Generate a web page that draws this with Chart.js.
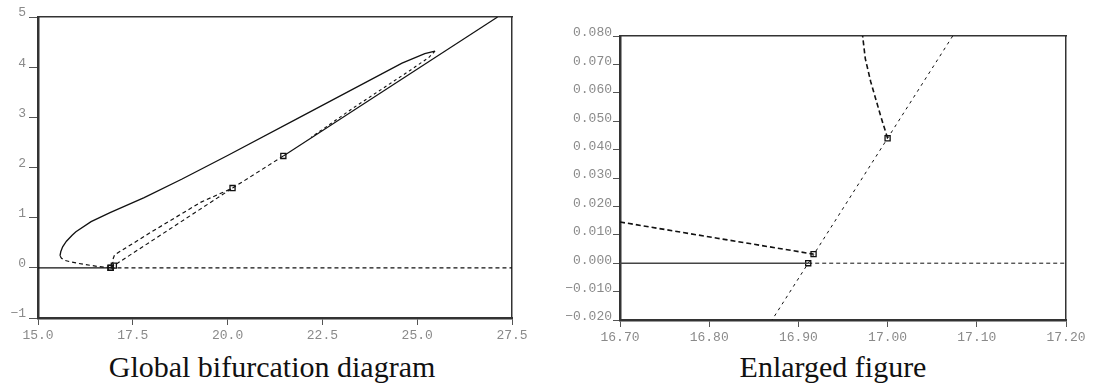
<!DOCTYPE html>
<html>
<head>
<meta charset="utf-8">
<script src="https://cdn.jsdelivr.net/npm/chart.js@4/dist/chart.umd.min.js"></script>
<style>
  body { margin: 0; background: #fff; width: 1102px; height: 391px; position: relative; overflow: hidden; }
  .box { position: absolute; top: 0; width: 551px; height: 345px; }
  .caption { position: absolute; top: 352px; font-family: 'Liberation Serif', serif; font-size: 30px; line-height: 30px; color: #111; white-space: nowrap; transform: translateX(-50%); }
</style>
</head>
<body>
<div class="box" style="left:0"><canvas id="globalChart" width="551" height="345"></canvas></div>
<div class="box" style="left:551px"><canvas id="zoomChart" width="551" height="345"></canvas></div>
<div class="caption" style="left:272px">Global bifurcation diagram</div>
<div class="caption" style="left:833px">Enlarged figure</div>
<script>
// ---- global diagram ----
const trivialStableX = [15.0, 16.911];
const trivialStableY = [0, 0];
const trivialUnstableX = [16.911, 27.5];
const trivialUnstableY = [0, 0];

// primary branch: unstable part down to the fold, stable part up to the upper fold, unstable return
const primaryLowX = [16.917, 16.6, 16.2, 15.85, 15.7, 15.62, 15.58];
const primaryLowY = [0.003, 0.025, 0.07, 0.12, 0.15, 0.19, 0.24];
const primaryStableX = [15.58, 15.6, 15.65, 15.75, 15.9, 16.0, 16.4, 16.9, 17.8, 18.8, 20.0, 21.9, 24.6, 25.2, 25.47];
const primaryStableY = [0.24, 0.32, 0.42, 0.53, 0.65, 0.72, 0.92, 1.1, 1.4, 1.77, 2.24, 3.0, 4.08, 4.27, 4.32];
const primaryReturnX = [25.47, 25.3, 24.8, 24.2, 23.3, 22.6, 22.2];
const primaryReturnY = [4.32, 4.19, 3.93, 3.63, 3.18, 2.81, 2.6];

// secondary branches
const secondaryStableX = [21.47, 27.12];
const secondaryStableY = [2.23, 5.0];
const secondaryMidX = [20.13, 21.47];
const secondaryMidY = [1.59, 2.23];
const secondaryUpperX = [17.0, 16.975, 16.97, 17.02, 17.3, 18.0, 19.3, 20.13];
const secondaryUpperY = [0.044, 0.08, 0.16, 0.26, 0.39, 0.72, 1.31, 1.59];
const secondaryLowerX = [16.911, 20.13];
const secondaryLowerY = [0, 1.59];

const bifPointsX = [16.911, 16.917, 17.0, 20.13, 21.47];
const bifPointsY = [0, 0.003, 0.044, 1.59, 2.23];

// ---- enlarged figure ----
const zTrivialStableX = [16.70, 16.911];
const zTrivialStableY = [0, 0];
const zTrivialUnstableX = [16.911, 17.20];
const zTrivialUnstableY = [0, 0];
const zPrimaryX = [16.70, 16.809, 16.917];
const zPrimaryY = [0.0145, 0.0088, 0.0032];
const zLowerX = [16.869, 16.911, 17.0, 17.074];
const zLowerY = [-0.0207, 0, 0.044, 0.0805];
const zUpperX = [17.0, 16.993, 16.981, 16.975, 16.972];
const zUpperY = [0.044, 0.051, 0.064, 0.072, 0.08];
const zPointsX = [16.911, 16.917, 17.0];
const zPointsY = [0, 0.0032, 0.044];

const pts = (xs, ys) => xs.map((x, i) => ({ x, y: ys[i] }));
const minus = (s) => s.replace('-', '\u2212');

function line(xs, ys, opts) {
  return Object.assign({
    data: pts(xs, ys),
    showLine: true,
    pointRadius: 0,
    borderColor: '#111',
    borderWidth: 1.2,
    fill: false,
    tension: 0,
  }, opts);
}

function squares(xs, ys) {
  return {
    data: pts(xs, ys),
    showLine: false,
    pointStyle: 'rect',
    pointRadius: 3.6,
    borderColor: '#111',
    borderWidth: 1.3,
    backgroundColor: 'rgba(0,0,0,0)',
  };
}

const tickFont = { family: "'Liberation Mono', 'DejaVu Sans Mono', monospace", size: 13 };
const tickColor = '#8a8a8a';

function makeScales(c) {
  return {
    x: {
      type: 'linear', min: c.xMin, max: c.xMax,
      ticks: { stepSize: c.xStep, autoSkip: false, maxRotation: 0, font: tickFont, color: tickColor, padding: 3,
        callback: (v) => minus(v.toFixed(c.xDec)) },
      grid: { drawOnChartArea: false, tickLength: 7, color: '#555', lineWidth: 1 },
      border: { color: '#333', width: 2.5 },
      afterFit: (s) => { s.height = c.xHeight; },
    },
    y: {
      type: 'linear', min: c.yMin, max: c.yMax,
      ticks: { stepSize: c.yStep, autoSkip: false, font: tickFont, color: tickColor, padding: c.yPad, labelOffset: c.yLabelOffset,
        callback: (v) => minus(v.toFixed(c.yDec)) },
      grid: { drawOnChartArea: false, tickLength: c.yTick, color: '#555', lineWidth: 1 },
      border: { color: '#333', width: 2.5 },
      afterFit: (s) => { s.width = c.yWidth; },
    },
    x2: {
      type: 'linear', position: 'top', min: c.xMin, max: c.xMax,
      ticks: { display: false }, grid: { display: false },
      border: { color: '#333', width: 1.5 },
      afterFit: (s) => { s.height = 0; },
    },
    y2: {
      type: 'linear', position: 'right', min: c.yMin, max: c.yMax,
      ticks: { display: false }, grid: { display: false },
      border: { color: '#333', width: 1.5 },
      afterFit: (s) => { s.width = 0; },
    },
  };
}

const commonOptions = {
  responsive: false,
  animation: false,
  events: [],
  plugins: { legend: { display: false }, tooltip: { enabled: false } },
};

new Chart(document.getElementById('globalChart'), {
  type: 'scatter',
  data: {
    datasets: [
      line(trivialStableX, trivialStableY, { borderWidth: 1.3 }),
      line(trivialUnstableX, trivialUnstableY, { borderDash: [4, 3], borderWidth: 1.1 }),
      line(primaryLowX, primaryLowY, { borderDash: [4, 3] }),
      line(primaryStableX, primaryStableY, { borderWidth: 1.3 }),
      line(primaryReturnX, primaryReturnY, { borderDash: [3, 3], borderWidth: 1.1 }),
      line(secondaryStableX, secondaryStableY, { borderWidth: 1.2 }),
      line(secondaryMidX, secondaryMidY, { borderDash: [4, 3], borderWidth: 1.1 }),
      line(secondaryUpperX, secondaryUpperY, { borderDash: [4, 3], borderWidth: 1.2 }),
      line(secondaryLowerX, secondaryLowerY, { borderDash: [4, 3], borderWidth: 1.1 }),
      squares(bifPointsX, bifPointsY),
    ],
  },
  options: Object.assign({}, commonOptions, {
    layout: { padding: { left: 0, right: 39, top: 17, bottom: 0 } },
    scales: makeScales({
      xMin: 15, xMax: 27.5, xStep: 2.5, xDec: 1, xHeight: 27,
      yMin: -1, yMax: 5, yStep: 1, yDec: 0, yWidth: 38, yTick: 9, yPad: 3, yLabelOffset: -4,
    }),
  }),
});

new Chart(document.getElementById('zoomChart'), {
  type: 'scatter',
  data: {
    datasets: [
      line(zTrivialStableX, zTrivialStableY, { borderColor: '#444', borderWidth: 1.4 }),
      line(zTrivialUnstableX, zTrivialUnstableY, { borderDash: [4, 3], borderWidth: 1 }),
      line(zPrimaryX, zPrimaryY, { borderDash: [5, 3], borderWidth: 1.6 }),
      line(zLowerX, zLowerY, { borderDash: [3, 4], borderWidth: 1 }),
      line(zUpperX, zUpperY, { borderDash: [5, 3], borderWidth: 1.6 }),
      squares(zPointsX, zPointsY),
    ],
  },
  options: Object.assign({}, commonOptions, {
    layout: { padding: { left: 0, right: 36, top: 36, bottom: 0 } },
    scales: makeScales({
      xMin: 16.7, xMax: 17.2, xStep: 0.1, xDec: 2, xHeight: 25,
      yMin: -0.02, yMax: 0.08, yStep: 0.01, yDec: 3, yWidth: 69, yTick: 7, yPad: 1, yLabelOffset: -3,
    }),
  }),
});
</script>
</body>
</html>
